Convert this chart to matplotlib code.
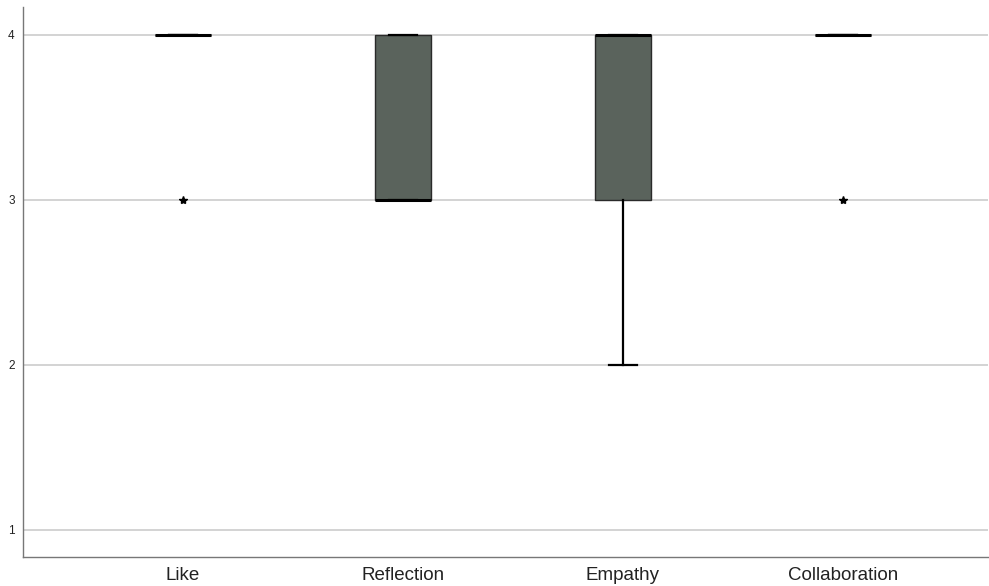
import matplotlib
matplotlib.use("Agg")
import matplotlib.pyplot as plt

# Box statistics per item (Likert 1-4)
categorias = ["Like", "Reflection", "Empathy", "Collaboration"]
q1 = [4, 3, 3, 4]
medianas = [4, 3, 4, 4]
q3 = [4, 4, 4, 4]
whis_baixo = [4, 3, 2, 4]
whis_alto = [4, 4, 4, 4]
outliers = [[3], [], [], [3]]

plt.rcParams["font.family"] = ["Liberation Sans", "DejaVu Sans"]

stats = []
for i, nome in enumerate(categorias):
    stats.append({
        "label": nome,
        "med": medianas[i],
        "q1": q1[i],
        "q3": q3[i],
        "whislo": whis_baixo[i],
        "whishi": whis_alto[i],
        "fliers": outliers[i],
    })

fig = plt.figure(figsize=(9.89, 5.86), dpi=100)
ax = fig.add_axes([0.0233, 0.0495, 0.9757, 0.9386])

posicoes = list(range(len(categorias)))
ax.bxp(
    stats,
    positions=posicoes,
    widths=0.255,
    capwidths=0.13,
    patch_artist=True,
    boxprops=dict(facecolor="#5a635c", edgecolor="#2a2a2a", linewidth=1.0),
    medianprops=dict(color="black", linewidth=2.2),
    whiskerprops=dict(color="black", linewidth=1.6),
    capprops=dict(color="black", linewidth=1.6),
    flierprops=dict(marker="*", markerfacecolor="black", markeredgecolor="black",
                    markersize=6, linestyle="none"),
    zorder=3,
)

ax.set_xlim(-0.727, 3.66)
ax.set_ylim(0.836, 4.167)
ax.set_yticks([1, 2, 3, 4])
ax.set_xticks(posicoes)
ax.set_xticklabels(categorias, fontsize=13.5, color="#222222")
ax.tick_params(axis="y", labelsize=8.5, length=0, pad=6, labelcolor="#222222")
ax.tick_params(axis="x", length=0, pad=7)

ax.grid(axis="y", color="#cccccc", linewidth=1.2, zorder=0)
ax.set_axisbelow(True)
for lado in ["top", "right"]:
    ax.spines[lado].set_visible(False)
for lado in ["left", "bottom"]:
    ax.spines[lado].set_color("#777777")
    ax.spines[lado].set_linewidth(1.0)

fig.savefig("out.png", dpi=100)
